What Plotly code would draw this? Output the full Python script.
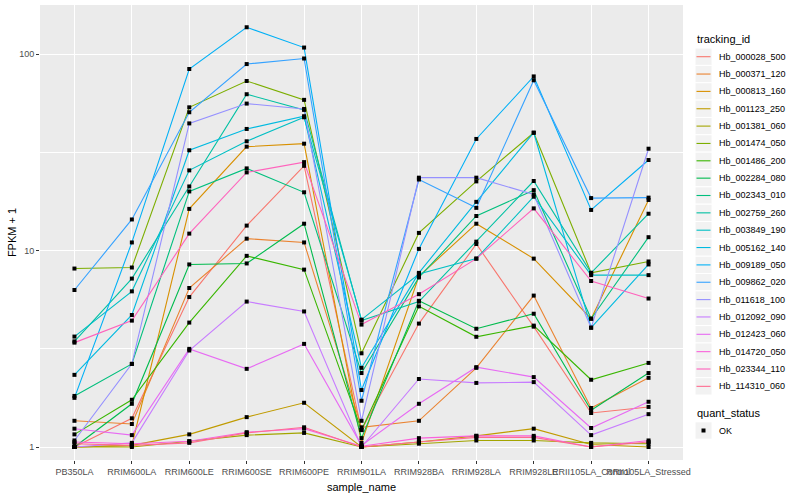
import plotly.graph_objects as go

samples = ["PB350LA", "RRIM600LA", "RRIM600LE", "RRIM600SE", "RRIM600PE", "RRIM901LA",
           "RRIM928BA", "RRIM928LA", "RRIM928LE", "RRII105LA_Control", "RRII105LA_Stressed"]

tracking_ids = ["Hb_000028_500", "Hb_000371_120", "Hb_000813_160", "Hb_001123_250", "Hb_001381_060",
                "Hb_001474_050", "Hb_001486_200", "Hb_002284_080", "Hb_002343_010", "Hb_002759_260",
                "Hb_003849_190", "Hb_005162_140", "Hb_009189_050", "Hb_009862_020", "Hb_011618_100",
                "Hb_012092_090", "Hb_012423_060", "Hb_014720_050", "Hb_023344_110", "Hb_114310_060"]

colors = ["#F8766D", "#EA8331", "#D89000", "#C09B00", "#A3A500", "#7CAE00", "#39B600", "#00BB4E",
          "#00BF7D", "#00C1A3", "#00BFC4", "#00BAE0", "#00B0F6", "#35A2FF", "#9590FF", "#C77CFF",
          "#E76BF3", "#FA62DB", "#FF62BC", "#FF6C91"]

quant_status = ["OK"]

# FPKM + 1 per sample
Hb_000028_500 = [1.0, 1.4, 5.8, 13.4, 27, 1.22, 4.25, 10.8, 4.1, 1.49, 1.6]
Hb_000371_120 = [1.36, 1.31, 6.45, 11.5, 11, 1.26, 1.36, 2.53, 5.9, 1.58, 2.25]
Hb_000813_160 = [1.0, 1.02, 16.3, 33.8, 35, 1.05, 7.4, 13.7, 9.1, 4.5, 18.1]
Hb_001123_250 = [1.0, 1.02, 1.16, 1.42, 1.68, 1.0, 1.06, 1.14, 1.24, 1.03, 1.0]
Hb_001381_060 = [1.0, 1.0, 1.07, 1.15, 1.18, 1.0, 1.04, 1.08, 1.08, 1.05, 1.04]
Hb_001474_050 = [8.1, 8.2, 53.6, 73, 58.5, 3.0, 12.3, 22.5, 39.8, 7.7, 8.8]
Hb_001486_200 = [1.16, 1.74, 4.3, 9.4, 8.0, 1.22, 5.2, 3.64, 4.15, 2.2, 2.68]
Hb_002284_080 = [1.0, 1.66, 8.5, 8.6, 13.7, 1.11, 5.55, 4.0, 4.77, 1.54, 2.38]
Hb_002343_010 = [1.82, 2.65, 20, 26.2, 19.8, 2.38, 7.3, 15, 20.3, 4.5, 11.7]
Hb_002759_260 = [3.45, 7.2, 21.2, 62.5, 52, 4.4, 5.5, 11.1, 22.6, 7.7, 15.4]
Hb_003849_190 = [3.65, 6.2, 25.6, 36, 47.7, 4.45, 7.6, 9.1, 18.8, 7.5, 7.5]
Hb_005162_140 = [2.33, 4.7, 32.4, 41.6, 48.3, 2.53, 7.7, 17.7, 39.8, 4.05, 8.5]
Hb_009189_050 = [1.78, 11, 84, 137, 108, 1.95, 10.2, 37, 77, 16.1, 28.9]
Hb_009862_020 = [6.3, 14.4, 50.6, 89, 95, 1.72, 23, 16.5, 73.6, 18.5, 18.6]
Hb_011618_100 = [1.08, 2.65, 44.4, 56, 52.6, 1.36, 23.5, 23.5, 19.3, 4.05, 33]
Hb_012092_090 = [1.0, 1.05, 3.1, 5.5, 4.9, 1.0, 2.22, 2.12, 2.14, 1.15, 1.47]
Hb_012423_060 = [1.24, 1.15, 3.16, 2.5, 3.35, 1.02, 1.66, 2.55, 2.27, 1.25, 1.7]
Hb_014720_050 = [1.06, 1.04, 1.07, 1.19, 1.24, 1.01, 1.11, 1.14, 1.14, 1.0, 1.08]
Hb_023344_110 = [3.4, 4.4, 12.2, 25, 28.2, 4.2, 6.0, 9.1, 16.4, 7.0, 5.7]
Hb_114310_060 = [1.04, 1.02, 1.05, 1.18, 1.26, 1.0, 1.06, 1.12, 1.12, 1.0, 1.06]

series = [Hb_000028_500, Hb_000371_120, Hb_000813_160, Hb_001123_250, Hb_001381_060,
          Hb_001474_050, Hb_001486_200, Hb_002284_080, Hb_002343_010, Hb_002759_260,
          Hb_003849_190, Hb_005162_140, Hb_009189_050, Hb_009862_020, Hb_011618_100,
          Hb_012092_090, Hb_012423_060, Hb_014720_050, Hb_023344_110, Hb_114310_060]

FONT = "Liberation Sans, Arial, sans-serif"
W, H = 800, 500
ML, MR, MT, MB = 40, 117, 5, 40
PW, PH = W - ML - MR, H - MT - MB


def px(x):
    return (x - ML) / PW


def py(y):
    return (H - MB - y) / PH


fig = go.Figure()

for name, vals, col in zip(tracking_ids, series, colors):
    fig.add_trace(go.Scatter(x=samples, y=vals, mode="lines", name=name,
                             line=dict(color=col, width=1.1), showlegend=False))

allx, ally = [], []
for vals in series:
    allx += samples
    ally += vals
fig.add_trace(go.Scatter(x=allx, y=ally, mode="markers", name=quant_status[0],
                         marker=dict(symbol="square", size=4, color="black"), showlegend=False))

# manual ggplot-style legend
shapes, annots = [], []
KX0, KX1 = 695, 712
ROW = 17.35
annots.append(dict(text="tracking_id", x=px(695), y=py(39), xref="paper", yref="paper",
                   xanchor="left", yanchor="middle", showarrow=False, font=dict(size=11, color="black")))
for i, (name, col) in enumerate(zip(tracking_ids, colors)):
    cy = 56.7 + ROW * i
    shapes.append(dict(type="rect", xref="paper", yref="paper", x0=px(KX0), x1=px(KX1),
                       y0=py(cy - ROW / 2), y1=py(cy + ROW / 2), fillcolor="#F2F2F2",
                       line=dict(color="white", width=1), layer="below"))
    shapes.append(dict(type="line", xref="paper", yref="paper", x0=px(KX0 + 1.5), x1=px(KX1 - 1.5),
                       y0=py(cy), y1=py(cy), line=dict(color=col, width=1.1)))
    annots.append(dict(text=name, x=px(717), y=py(cy), xref="paper", yref="paper",
                       xanchor="left", yanchor="middle", showarrow=False,
                       font=dict(size=9, color="black")))

annots.append(dict(text="quant_status", x=px(695), y=py(413), xref="paper", yref="paper",
                   xanchor="left", yanchor="middle", showarrow=False, font=dict(size=11, color="black")))
cy = 430.5
shapes.append(dict(type="rect", xref="paper", yref="paper", x0=px(KX0), x1=px(KX1),
                   y0=py(cy - ROW / 2), y1=py(cy + ROW / 2), fillcolor="#F2F2F2",
                   line=dict(color="white", width=1), layer="below"))
shapes.append(dict(type="rect", xref="paper", yref="paper", x0=px(701.5), x1=px(705.5),
                   y0=py(cy - 2), y1=py(cy + 2), fillcolor="black", line=dict(width=0)))
annots.append(dict(text=quant_status[0], x=px(717), y=py(cy), xref="paper", yref="paper",
                   xanchor="left", yanchor="middle", showarrow=False, font=dict(size=9, color="black")))

fig.update_layout(
    width=W, height=H,
    margin=dict(l=ML, r=MR, t=MT, b=MB, autoexpand=False),
    paper_bgcolor="white", plot_bgcolor="#EBEBEB",
    font=dict(family=FONT, size=9, color="black"),
    showlegend=False,
    shapes=shapes, annotations=annots,
    xaxis=dict(type="category", range=[-0.6, 10.6], showgrid=True, gridcolor="white", gridwidth=1,
               ticks="outside", ticklen=3, tickcolor="#333333", tickangle=0,
               tickfont=dict(size=9, color="#4D4D4D"), zeroline=False, showline=False,
               automargin=False,
               title=dict(text="sample_name", font=dict(size=11), standoff=7)),
    yaxis=dict(type="log", range=[-0.066, 2.25], tickvals=[1, 10, 100], ticktext=["1", "10", "100"],
               showgrid=True, gridcolor="white", gridwidth=1,
               minor=dict(tickvals=[10 ** 0.5, 10 ** 1.5], showgrid=True, gridcolor="white",
                          gridwidth=0.5, ticks=""),
               ticks="outside", ticklen=3, tickcolor="#333333", automargin=False,
               tickfont=dict(size=9, color="#4D4D4D"), zeroline=False, showline=False,
               title=dict(text="FPKM + 1", font=dict(size=11), standoff=0)),
)

fig.write_html("out.html", config={"displayModeBar": False},
               post_script="document.body.style.margin='0px';document.body.style.overflow='hidden';")
